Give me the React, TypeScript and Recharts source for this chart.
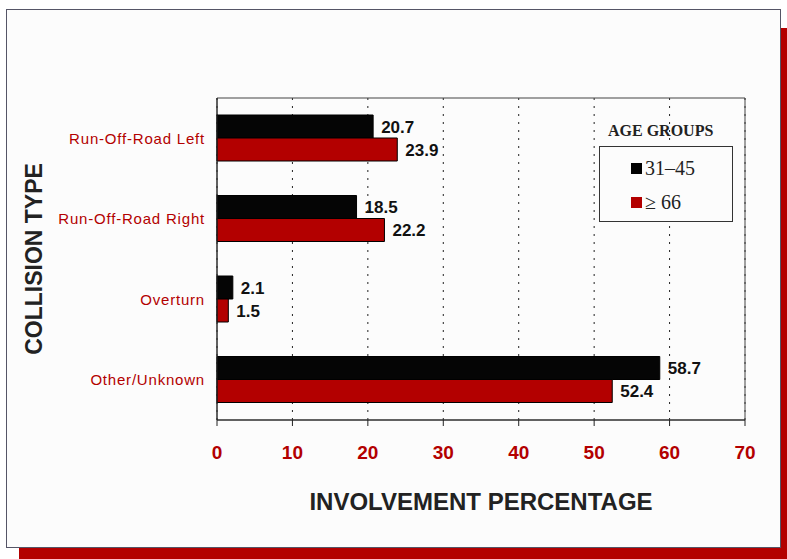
import React from 'react';
import {
    BarChart,
    Bar,
    XAxis,
    YAxis,
    CartesianGrid,
    LabelList,
    ReferenceArea,
} from 'recharts';

// collision types and involvement % per age group
const categories: string[] = ['Run-Off-Road Left', 'Run-Off-Road Right', 'Overturn', 'Other/Unknown'];
const age31to45: number[] = [20.7, 18.5, 2.1, 58.7];
const age66plus: number[] = [23.9, 22.2, 1.5, 52.4];
const xTicks: number[] = [0, 10, 20, 30, 40, 50, 60, 70];

const data = categories.map((name, i) => ({
    name,
    young: age31to45[i],
    old: age66plus[i],
}));

const RED = '#b30000';
const SANS = '"Liberation Sans", Arial, sans-serif';
const SERIF = '"Liberation Serif", "Times New Roman", serif';

// legend drawn as an overlay so it doesn't steal space from the plot
const LegendBox = () => (
    <div style={{ position: 'absolute', left: 599, top: 122, fontFamily: SERIF, color: '#222' }}>
        <div style={{ fontWeight: 'bold', fontSize: 16, marginLeft: 9, marginBottom: 6 }}>AGE GROUPS</div>
        <div style={{ border: '1.5px solid #333', width: 134, height: 76, boxSizing: 'border-box', paddingTop: 4, background: '#fcfcfc' }}>
            <div style={{ display: 'flex', alignItems: 'center', marginLeft: 31, fontSize: 20, height: 34 }}>
                <span style={{ width: 11, height: 11, background: '#000', display: 'inline-block', marginRight: 3 }} />
                31–45
            </div>
            <div style={{ display: 'flex', alignItems: 'center', marginLeft: 31, fontSize: 20, height: 34 }}>
                <span style={{ width: 11, height: 11, background: RED, display: 'inline-block', marginRight: 3 }} />
                ≥ 66
            </div>
        </div>
    </div>
);

const labelStyle = { fill: '#111', fontSize: 17, fontWeight: 'bold', fontFamily: SANS };

const App: React.FC = () => {
    return (
        <div style={{ position: 'absolute', left: 0, top: 0, width: 787, height: 559, background: '#fff' }}>
            {/* red drop shadow + frame */}
            <div style={{ position: 'absolute', left: 19, top: 28, width: 768, height: 531, background: RED }} />
            <div style={{ position: 'absolute', left: 6, top: 9, width: 775, height: 539, background: '#fcfcfc', border: '1.5px solid #556', boxSizing: 'border-box' }} />
            <div style={{ position: 'absolute', left: 0, top: 0 }}>
                <BarChart
                    width={787}
                    height={559}
                    data={data}
                    layout="vertical"
                    margin={{ top: 98, right: 42, left: 17, bottom: 99 }}
                    barGap={0}
                >
                    <CartesianGrid horizontal={false} vertical stroke="#222" strokeDasharray="2 6" />
                    <ReferenceArea x1={0} x2={70} fill="none" stroke="#444" strokeWidth={1} />
                    <XAxis
                        type="number"
                        domain={[0, 70]}
                        ticks={xTicks}
                        interval={0}
                        height={40}
                        stroke="#222"
                        tickSize={6}
                        tickMargin={20}
                        tick={{ fill: RED, fontSize: 19, fontWeight: 'bold', fontFamily: SANS }}
                        label={{ value: 'INVOLVEMENT PERCENTAGE', position: 'bottom', offset: 33, fill: '#222', fontSize: 24, fontWeight: 'bold', fontFamily: SANS }}
                    />
                    <YAxis
                        type="category"
                        dataKey="name"
                        width={200}
                        stroke="#222"
                        tickSize={0}
                        tickMargin={12}
                        tick={{ fill: RED, fontSize: 15, fontFamily: SANS, letterSpacing: 0.8 }}
                        label={{ value: 'COLLISION TYPE', angle: -90, position: 'insideLeft', offset: 17, fill: '#222', fontSize: 23, fontWeight: 'bold', fontFamily: SANS, style: { textAnchor: 'middle' } }}
                    />
                    <Bar dataKey="young" fill="#050505" stroke="#000" barSize={23} isAnimationActive={false}>
                        <LabelList dataKey="young" position="right" offset={8} {...labelStyle} />
                    </Bar>
                    <Bar dataKey="old" fill={RED} stroke="#000" barSize={23} isAnimationActive={false}>
                        <LabelList dataKey="old" position="right" offset={8} {...labelStyle} />
                    </Bar>
                </BarChart>
            </div>
            <LegendBox />
        </div>
    );
};

export default App;
